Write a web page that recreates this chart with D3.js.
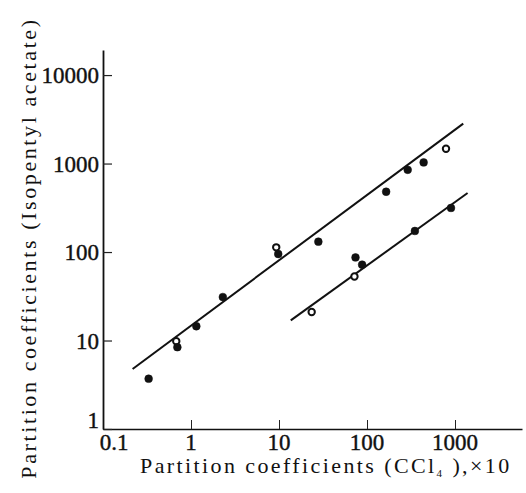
<!DOCTYPE html>
<html>
<head>
<meta charset="utf-8">
<script src="https://cdn.jsdelivr.net/npm/d3@7"></script>
<style>
    body { margin: 0; background: #fff; }
    text { font-family: "Liberation Serif", "DejaVu Serif", serif; fill: #111; }
</style>
</head>
<body>
<div id="chart"></div>
<script>
var w = 526;
var h = 493;

// upper series (filled / open markers)
var upperX = [0.33, 0.68, 0.70, 1.15, 2.3, 9.3, 9.8, 28, 165, 290, 440, 790];
var upperY = [3.7, 9.8, 8.4, 14.5, 31, 113, 95, 131, 480, 850, 1030, 1470];
var upperOpen = [false, true, false, false, false, true, false, false, false, false, false, true];

// lower series
var lowerX = [23.5, 72, 74, 88, 350, 900];
var lowerY = [21, 53, 87, 72, 173, 315];
var lowerOpen = [true, true, false, false, false, false];

// fitted lines (end points)
var upperLineX = [0.217, 1240];
var upperLineY = [4.77, 2830];
var lowerLineX = [13.6, 1390];
var lowerLineY = [16.9, 464];

var xTicks = [0.1, 1, 10, 100, 1000];
var yTicks = [1, 10, 100, 1000, 10000];

var svg = d3.select("#chart")
    .append("svg")
    .attr("width", w)
    .attr("height", h);

var x = d3.scaleLog()
    .domain([0.1, 5770])
    .range([103, 522]);

var y = d3.scaleLog()
    .domain([1, 19200])
    .range([429, 50]);

// axes
var xAxis = d3.axisTop(x)
    .tickValues(xTicks)
    .tickSize(9)
    .tickSizeOuter(0)
    .tickFormat("");

var yAxis = d3.axisRight(y)
    .tickValues(yTicks)
    .tickSize(9)
    .tickSizeOuter(0)
    .tickFormat("");

svg.append("g")
    .attr("transform", "translate(0," + y(1) + ")")
    .call(xAxis)
    .call(function (g) {
        g.select(".domain").attr("stroke", "#111").attr("stroke-width", 1.6);
        g.selectAll(".tick line").attr("stroke", "#222").attr("stroke-width", 1);
    });

svg.append("g")
    .attr("transform", "translate(" + x(0.1) + ",0)")
    .call(yAxis)
    .call(function (g) {
        g.select(".domain").attr("stroke", "#111").attr("stroke-width", 1.8);
        g.selectAll(".tick line").attr("stroke", "#222").attr("stroke-width", 1.2);
    });

// tick labels
svg.selectAll(".xlab")
    .data(xTicks)
    .enter()
    .append("text")
    .attr("class", "xlab")
    .attr("x", function (d, i) { return x(d) + (i === 0 ? 11 : 0); })
    .attr("y", 450)
    .attr("text-anchor", "middle")
    .attr("font-size", "23px")
    .attr("stroke", "#111")
    .attr("stroke-width", 0.4)
    .text(function (d) { return d; });

svg.selectAll(".ylab")
    .data(yTicks)
    .enter()
    .append("text")
    .attr("class", "ylab")
    .attr("x", 99)
    .attr("y", function (d, i) { return y(d) + (i === 0 ? -1 : 8); })
    .attr("text-anchor", "end")
    .attr("font-size", "23px")
    .attr("stroke", "#111")
    .attr("stroke-width", 0.4)
    .text(function (d) { return d; });

// fitted lines
var line = d3.line()
    .x(function (d) { return x(d[0]); })
    .y(function (d) { return y(d[1]); });

svg.append("path")
    .attr("d", line(d3.zip(upperLineX, upperLineY)))
    .attr("fill", "none")
    .attr("stroke", "#111")
    .attr("stroke-width", 2);

svg.append("path")
    .attr("d", line(d3.zip(lowerLineX, lowerLineY)))
    .attr("fill", "none")
    .attr("stroke", "#111")
    .attr("stroke-width", 2);

// points
function drawPoints(xs, ys, open, cls) {
    svg.selectAll("." + cls)
        .data(d3.range(xs.length))
        .enter()
        .append("circle")
        .attr("class", cls)
        .attr("cx", function (i) { return x(xs[i]); })
        .attr("cy", function (i) { return y(ys[i]); })
        .attr("r", function (i) { return open[i] ? 3.2 : 3.9; })
        .attr("fill", function (i) { return open[i] ? "#fff" : "#111"; })
        .attr("stroke", "#111")
        .attr("stroke-width", function (i) { return open[i] ? 2 : 0.5; });
}

drawPoints(upperX, upperY, upperOpen, "up");
drawPoints(lowerX, lowerY, lowerOpen, "low");

// axis titles
var xTitle = svg.append("text")
    .attr("x", 140)
    .attr("y", 473)
    .attr("font-size", "22px")
    .attr("letter-spacing", "2.4px");
xTitle.append("tspan").text("Partition coefficients (CCl");
xTitle.append("tspan").attr("font-size", "11px").attr("dy", 4).text("4");
xTitle.append("tspan").attr("dy", -4).text(" ),×10");

svg.append("text")
    .attr("transform", "translate(36,248) rotate(-90)")
    .attr("text-anchor", "middle")
    .attr("font-size", "22px")
    .attr("letter-spacing", "2.6px")
    .text("Partition coefficients (Isopentyl acetate)");
</script>
</body>
</html>
